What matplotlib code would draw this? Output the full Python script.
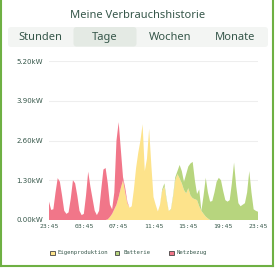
import matplotlib
matplotlib.use('Agg')
import matplotlib.pyplot as plt
from matplotlib.patches import FancyBboxPatch, Rectangle
from matplotlib.lines import Line2D
import numpy as np

# 15-minute samples from 23:45 to 23:45 (kW)
eigenproduktion = [
    0, 0, 0, 0, 0, 0, 0, 0, 0, 0,
    0, 0, 0, 0, 0, 0, 0, 0, 0, 0,
    0, 0, 0, 0, 0, 0, 0, 0.02, 0.1, 0.2,
    0.35, 0.5, 0.75, 1.05, 1.3, 0.9, 0.55, 0.4, 0.45, 1.0,
    1.7, 2.2, 2.6, 3.13, 1.6, 2.0, 2.98, 1.8, 0.75, 0.5,
    0.28, 0.5, 0.95, 1.1, 0.65, 0.3, 0.33, 0.75, 1.3, 1.5,
    1.36, 1.2, 0.98, 0.87, 1.04, 0.8, 0.71, 0.68, 0.65, 0.45,
    0.3, 0.2, 0.11, 0.05, 0, 0, 0, 0, 0, 0,
    0, 0, 0, 0, 0, 0, 0, 0, 0, 0,
    0, 0, 0, 0, 0, 0, 0,
]
batterie = [
    0, 0, 0, 0, 0, 0, 0, 0, 0, 0,
    0, 0, 0, 0, 0, 0, 0, 0, 0, 0,
    0, 0, 0, 0, 0, 0, 0, 0, 0, 0,
    0, 0, 0, 0, 0, 0, 0, 0, 0, 0,
    0, 0, 0, 0, 0, 0, 0, 0, 0, 0,
    0, 0, 0.05, 0.1, 0.05, 0, 0.02, 0.05, 0.1, 0.1,
    0.44, 0.4, 0.27, 0.63, 0.71, 1.05, 1.19, 0.62, 0.2, 0.55,
    0, 0.6, 1.27, 0.85, 0.6, 0.62, 0.9, 1.25, 1.38, 1.3,
    0.95, 0.65, 0.6, 0.65, 1.2, 1.88, 1.1, 0.55, 0.45, 0.5,
    0.55, 0.9, 1.6, 0.9, 0.35, 0.3, 0.27,
]
netzbezug = [
    0.6, 0.33, 0.35, 0.9, 1.37, 1.25, 0.8, 0.3, 0.2, 0.25,
    0.7, 1.3, 1.2, 0.8, 0.3, 0.16, 0.2, 0.8, 1.58, 1.1,
    0.7, 0.3, 0.16, 0.3, 1.0, 1.65, 1.7, 1.18, 0.4, 0.15,
    0.55, 2.1, 2.45, 1.25, 0.1, 0.15, 0.05, 0, 0, 0,
    0, 0, 0, 0, 0, 0, 0, 0, 0, 0,
    0, 0, 0, 0, 0, 0, 0, 0, 0, 0,
    0, 0, 0, 0, 0, 0, 0, 0, 0, 0,
    0, 0, 0, 0, 0, 0, 0, 0, 0, 0,
    0, 0, 0, 0, 0, 0, 0, 0, 0, 0,
    0, 0, 0, 0, 0, 0, 0,
]
x_labels = ['23:45', '03:45', '07:45', '11:45', '15:45', '19:45', '23:45']
y_ticks = [0, 1.3, 2.6, 3.9, 5.2]
tabs = ['Stunden', 'Tage', 'Wochen', 'Monate']

C_YELLOW = '#fde38b'
C_GREEN = '#b7d57e'
C_RED = '#f17689'
C_TEXT = '#36574a'
C_BORDER = '#6eb043'

fig = plt.figure(figsize=(2.75, 2.68), dpi=100)
W, H = 275, 268

def fx(px):
    return px / W

def fy(py):
    return 1 - py / H

# card border (top edge is cut off)
fig.add_artist(Line2D([fx(1), fx(1)], [fy(266), 1.01], color=C_BORDER, lw=1.5))
fig.add_artist(Line2D([fx(272.5), fx(272.5)], [fy(266), 1.01], color=C_BORDER, lw=1.5))
fig.add_artist(Line2D([fx(1), fx(272.5)], [fy(266), fy(266)], color=C_BORDER, lw=1.5))

fig.text(fx(138), fy(15), 'Meine Verbrauchshistorie', ha='center', va='center',
         fontsize=8, color=C_TEXT, family='Noto Sans')

# tab bar
fig.add_artist(FancyBboxPatch((fx(8), fy(47)), fx(260), 20 / H,
                              boxstyle='round,pad=0,rounding_size=0.012',
                              facecolor='#f3f5f3', edgecolor='none'))
fig.add_artist(FancyBboxPatch((fx(73.5), fy(46.5)), fx(63), 19.5 / H,
                              boxstyle='round,pad=0,rounding_size=0.012',
                              facecolor='#e4eae4', edgecolor='none'))
for label, cx in zip(tabs, [40, 105, 170, 235]):
    fig.text(fx(cx), fy(37.5), label, ha='center', va='center',
             fontsize=8, color=C_TEXT, family='Noto Sans')

ax = fig.add_axes([fx(49), fy(220), fx(258 - 49), (220 - 61) / H])
n = len(eigenproduktion)
t = np.arange(n)
ax.stackplot(t, eigenproduktion, batterie, netzbezug,
             colors=[C_YELLOW, C_GREEN, C_RED], linewidth=0)
ax.set_xlim(0, n - 1)
ax.set_ylim(0, 5.2)
ax.set_yticks(y_ticks)
ax.set_yticklabels([f'{v:.2f}kW' for v in y_ticks])
ax.set_xticks(np.linspace(0, n - 1, len(x_labels)))
ax.set_xticklabels(x_labels)
ax.tick_params(axis='y', length=0, pad=4, labelsize=5, labelcolor=C_TEXT)
ax.tick_params(axis='x', length=0, pad=3, labelsize=4.6, labelcolor=C_TEXT)
for lab in ax.get_xticklabels():
    lab.set_family('DejaVu Sans Mono')
for s in ax.spines.values():
    s.set_visible(False)
ax.grid(axis='y', color='#eeeeee', linewidth=0.8)
ax.set_axisbelow(True)

# legend
legend_items = [('Eigenproduktion', C_YELLOW, 50), ('Batterie', C_GREEN, 115), ('Netzbezug', C_RED, 169)]
for label, col, px in legend_items:
    fig.add_artist(Rectangle((fx(px), fy(255)), fx(4.5), 4.5 / H,
                             facecolor=col, edgecolor='#444444', lw=0.6))
    fig.text(fx(px + 8), fy(252.5), label, ha='left', va='center',
             fontsize=4.1, color=C_TEXT, family='DejaVu Sans Mono')

plt.savefig('out.png', dpi=100)
plt.close()
